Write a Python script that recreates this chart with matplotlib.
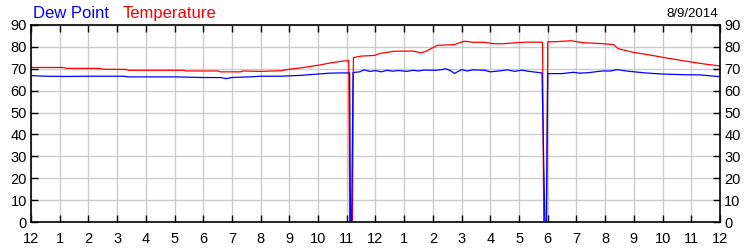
import matplotlib
matplotlib.use("Agg")
import matplotlib.pyplot as plt

# hours since midnight, readings in deg F
temp_hours = [0, 0.5, 1.1, 1.25, 2.0, 2.4, 2.5, 3.3, 3.4, 4.5, 5.3, 5.4, 6.0, 6.5, 6.6,
              7.3, 7.4, 8.0, 8.7, 9.0, 9.5, 10.0, 10.4, 10.8, 11.07,
              11.1, 11.2, 11.23,
              11.5, 11.97, 12.15, 12.65, 13.3, 13.58, 13.75, 14.15, 14.5, 14.75, 14.9, 15.1,
              15.4, 15.75, 16.1, 16.4, 16.8, 17.3, 17.82,
              17.86, 17.96, 18.0,
              18.3, 18.8, 19.25, 19.9, 20.3, 20.45, 20.95, 21.55, 22.15, 22.85, 23.5, 24.0]
temp_values = [70.6, 70.6, 70.6, 70.2, 70.2, 70.2, 69.8, 69.7, 69.3, 69.3, 69.3, 69.0, 69.0, 69.0, 68.6,
               68.6, 69.0, 68.8, 69.1, 69.8, 70.6, 71.6, 72.6, 73.4, 73.8,
               0, 0, 75.1,
               75.8, 76.1, 77.0, 78.0, 78.1, 77.3, 77.9, 80.7, 80.9, 81.0, 81.8, 82.6,
               82.1, 82.1, 81.5, 81.4, 81.8, 82.2, 82.1,
               0, 0, 82.3,
               82.4, 82.8, 81.9, 81.5, 81.0, 79.2, 77.6, 76.3, 74.9, 73.4, 72.1, 71.3]

dew_hours = [0, 0.5, 1.2, 2.0, 3.2, 3.4, 4.0, 5.0, 6.0, 6.6, 6.8, 7.0, 7.6, 8.0, 8.7,
             9.4, 10.0, 10.4, 10.8, 11.1,
             11.13, 11.17,
             11.22, 11.45, 11.6, 11.8, 12.0, 12.2, 12.4, 12.6, 12.8, 13.1, 13.3, 13.5, 13.7,
             14.1, 14.3, 14.45, 14.6, 14.75, 15.0, 15.2, 15.4,
             15.8, 16.0, 16.3, 16.6, 16.85, 17.1, 17.3, 17.8,
             17.9, 17.95,
             18.0, 18.5, 18.9, 19.1, 19.4, 19.9, 20.2, 20.4, 20.8, 21.4, 22.0, 22.7, 23.3, 24.0]
dew_values = [66.9, 66.6, 66.5, 66.6, 66.6, 66.3, 66.3, 66.3, 66.0, 66.0, 65.5, 66.0, 66.3, 66.6, 66.6,
              67.0, 67.6, 68.0, 68.1, 68.1,
              0, 0,
              68.3, 68.6, 69.5, 68.8, 69.2, 68.6, 69.3, 68.9, 69.2, 68.8, 69.3, 69.0, 69.4,
              69.3, 69.6, 70.0, 69.2, 67.9, 69.6, 69.0, 69.5,
              69.3, 68.6, 69.0, 69.5, 68.8, 69.4, 68.9, 68.1,
              0, 0,
              67.8, 67.8, 68.4, 68.0, 68.2, 69.0, 69.0, 69.6, 68.9, 68.1, 67.6, 67.3, 67.2, 66.4]

hour_labels = ['12', '1', '2', '3', '4', '5', '6', '7', '8', '9', '10', '11',
               '12', '1', '2', '3', '4', '5', '6', '7', '8', '9', '10', '11', '12']
date_label = '8/9/2014'

plt.rcParams['font.family'] = ['Liberation Sans', 'DejaVu Sans']

fig = plt.figure(figsize=(7.5, 2.5), dpi=100)
ax = fig.add_axes([0.0413, 0.112, 0.9187, 0.788])

ax.plot(dew_hours, dew_values, color='#0000FF', linewidth=0.9, zorder=3)
ax.plot(temp_hours, temp_values, color='#FF0000', linewidth=0.9, zorder=2)

ax.set_xlim(0, 24)
ax.set_ylim(0, 90)
ax.set_xticks(range(25))
ax.set_xticklabels(hour_labels)
ax.set_yticks(range(0, 91, 10))
ax.grid(True, color='#CCCCCC', linewidth=1.0, zorder=0)
ax.set_axisbelow(True)
ax.tick_params(direction='in', length=5, width=1, color='black', labelsize=10.5,
               top=True, right=True, labelright=True, pad=3)
ax.tick_params(axis='x', pad=7)
for s in ax.spines.values():
    s.set_color('black')
    s.set_linewidth(1.2)

fig.text(33 / 750, 1 - 18 / 250, 'Dew Point', color='#0000FF', fontsize=12, va='baseline')
fig.text(123 / 750, 1 - 18 / 250, 'Temperature', color='#FF0000', fontsize=12, va='baseline')
fig.text(718 / 750, 1 - 17 / 250, date_label, color='black', fontsize=9.5, ha='right', va='baseline')

fig.savefig('out.png', dpi=100)
